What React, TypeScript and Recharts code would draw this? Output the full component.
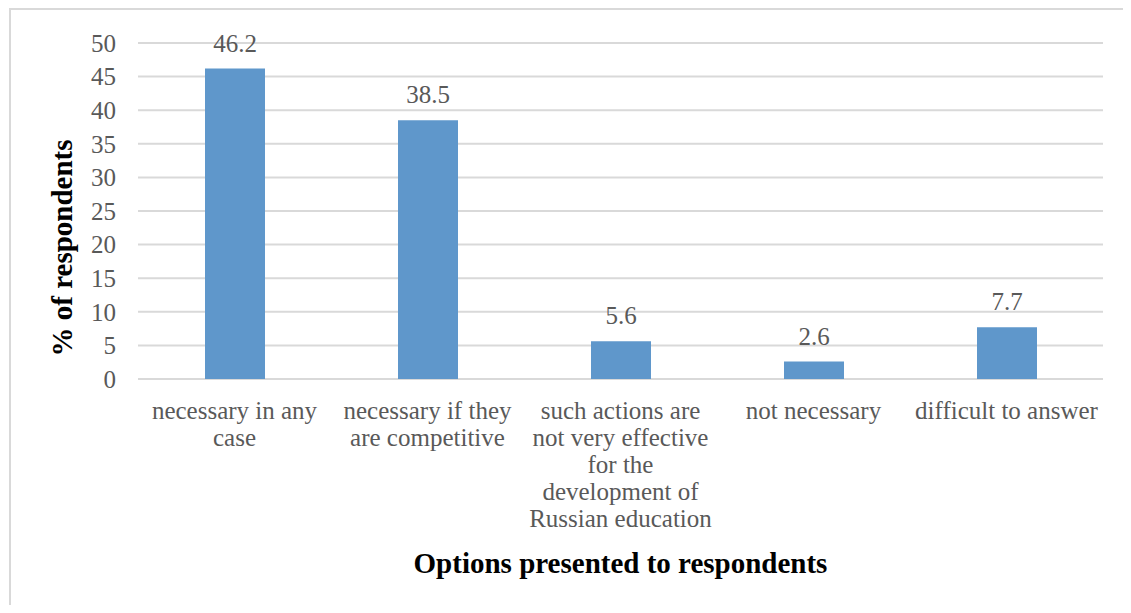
import React from 'react';
import { BarChart, Bar, XAxis, YAxis, CartesianGrid, LabelList, Label } from 'recharts';

// Category labels (line breaks as in the original) and values
const categories = [
  'necessary in any\ncase',
  'necessary if they\nare competitive',
  'such actions are\nnot very effective\nfor the\ndevelopment of\nRussian education',
  'not necessary',
  'difficult to answer',
];
const percents = [46.2, 38.5, 5.6, 2.6, 7.7];
const yTicks = [0, 5, 10, 15, 20, 25, 30, 35, 40, 45, 50];

const data = categories.map((name, i) => ({ name, value: percents[i] }));

const FONT = '"Liberation Serif", "DejaVu Serif", serif';
const TEXT = '#595959';

const CategoryTick = (props: any) => {
  const { x, y, payload } = props;
  const lines = String(payload.value).split('\n');
  return (
    <text x={x} y={y + 40} textAnchor="middle" fill={TEXT} fontSize={25} fontFamily={FONT}>
      {lines.map((line, i) => (
        <tspan key={i} x={x} dy={i === 0 ? 0 : 27}>
          {line}
        </tspan>
      ))}
    </text>
  );
};

const YTitle = (props: any) => {
  const { viewBox } = props;
  const cx = 61;
  const cy = viewBox.y + viewBox.height / 2 + 37;
  return (
    <text
      transform={`translate(${cx}, ${cy}) rotate(-90)`}
      textAnchor="middle"
      fontSize={29}
      fontWeight="bold"
      fontFamily={FONT}
      fill="#000"
    >
      % of respondents
    </text>
  );
};

const XTitle = (props: any) => {
  const { viewBox } = props;
  return (
    <text
      x={viewBox.x + viewBox.width / 2}
      y={viewBox.y + 194}
      textAnchor="middle"
      fontSize={29}
      fontWeight="bold"
      fontFamily={FONT}
      fill="#000"
    >
      Options presented to respondents
    </text>
  );
};

const App = () => {
  return (
    <div
      style={{
        marginLeft: 1,
        marginBottom: -8,
        width: 1120,
        height: 603,
        borderLeft: '2px solid #d9d9d9',
        borderTop: '2px solid #d9d9d9',
        background: '#fff',
      }}
    >
      <BarChart
        width={1110}
        height={595}
        data={data}
        margin={{ top: 33, right: 18, left: 0, bottom: 0 }}
      >
        <CartesianGrid vertical={false} stroke="#d9d9d9" strokeWidth={2} />
        <XAxis
          dataKey="name"
          height={226}
          axisLine={false}
          tickLine={false}
          tickSize={0}
          tickMargin={0}
          interval={0}
          tick={<CategoryTick />}
        >
          <Label content={<XTitle />} />
        </XAxis>
        <YAxis
          width={127}
          domain={[0, 50]}
          ticks={yTicks}
          axisLine={false}
          tickLine={false}
          tickSize={0}
          tickMargin={22}
          tick={{ fill: TEXT, fontSize: 25, fontFamily: FONT }}
        >
          <Label content={<YTitle />} />
        </YAxis>
        <Bar dataKey="value" fill="#5F97CB" barSize={60} isAnimationActive={false}>
          <LabelList
            dataKey="value"
            position="top"
            offset={17}
            fill={TEXT}
            fontSize={25}
            fontFamily={FONT}
          />
        </Bar>
      </BarChart>
    </div>
  );
};

export default App;
